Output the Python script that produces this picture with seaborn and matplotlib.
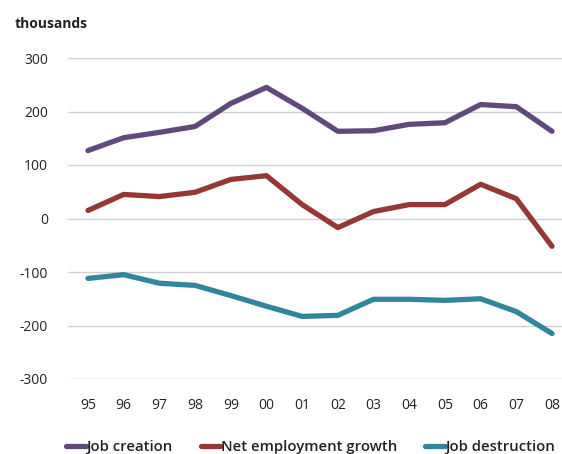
import matplotlib
matplotlib.use("Agg")
import matplotlib.pyplot as plt
import seaborn as sns
import pandas as pd

years = ["95", "96", "97", "98", "99", "00", "01", "02", "03", "04", "05", "06", "07", "08"]
job_creation = [127, 151, 161, 172, 215, 245, 206, 163, 164, 176, 179, 213, 209, 163]
net_growth = [15, 45, 41, 49, 73, 80, 26, -17, 13, 26, 26, 64, 37, -52]
job_destruction = [-112, -105, -121, -125, -144, -164, -183, -181, -151, -151, -153, -150, -174, -215]
series_names = ["Job creation", "Net employment growth", "Job destruction"]
colors = ["#604A7B", "#953735", "#31859C"]

sns.set_theme(style="white")
plt.rcParams['font.family'] = ['Open Sans', 'DejaVu Sans']

rows = []
for name, vals in zip(series_names, [job_creation, net_growth, job_destruction]):
    for i, (y, v) in enumerate(zip(years, vals)):
        rows.append({"idx": i, "year": y, "value": v, "series": name})
df = pd.DataFrame(rows)

fig = plt.figure(figsize=(5.62, 4.54), dpi=100)
ax = fig.add_axes([68/562, 1 - 379/454, 1 - 68/562, (379 - 58)/454])

sns.lineplot(data=df, x="idx", y="value", hue="series", hue_order=series_names,
             palette=dict(zip(series_names, colors)), linewidth=3.8, ax=ax,
             legend=False, solid_capstyle="round", solid_joinstyle="round")

ax.set_ylim(-300, 300)
ax.set_xlim(-0.56, 13.28)
ax.set_yticks(range(-300, 301, 100))
ax.set_yticklabels([str(v) for v in range(-300, 301, 100)])
ax.set_xticks(range(len(years)))
ax.set_xticklabels(years)
ax.yaxis.grid(True, color="#d0d0d0", linewidth=1)
ax.xaxis.grid(False)
ax.set_axisbelow(True)
for s in ax.spines.values():
    s.set_visible(False)
ax.tick_params(axis="both", length=0, labelsize=10, colors="#222222")
ax.tick_params(axis="y", pad=14.5)
ax.tick_params(axis="x", pad=14)
ax.set_xlabel("")
ax.set_ylabel("")

fig.text(15/562, 1 - 24/454, "thousands", fontsize=10, fontweight="bold",
         ha="left", va="center", color="#222222")

handles = [plt.Line2D([0], [0], color=c, linewidth=3.8, solid_capstyle="round") for c in colors]
fig.legend(handles, series_names, loc="center", bbox_to_anchor=(0.553, 1 - 447/454),
           ncol=3, frameon=False, prop={"size": 10.7, "weight": "semibold"},
           handlelength=1.3, handletextpad=0.05, columnspacing=1.9, labelcolor="#222222")

fig.savefig("out.png", dpi=100)
